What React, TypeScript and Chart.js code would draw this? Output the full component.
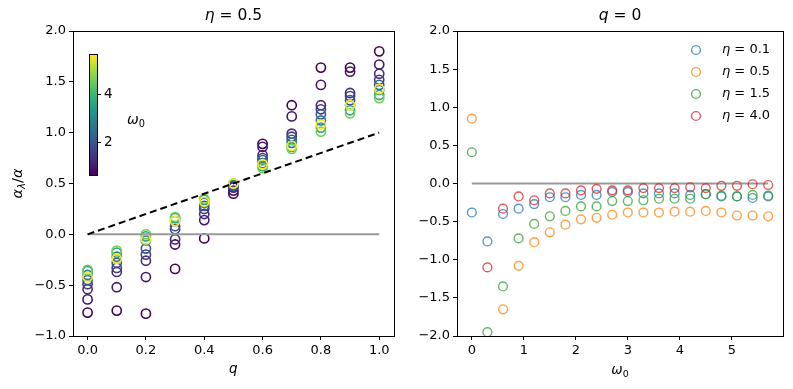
import React, { useEffect, useRef } from "react";
import { Chart, registerables } from "chart.js";
Chart.register(...registerables);

const FONT = '"DejaVu Sans", sans-serif';

// ---------- left panel data (eta = 0.5) ----------
const Q_VALUES = [0, 0.1, 0.2, 0.3, 0.4, 0.5, 0.6, 0.7, 0.8, 0.9, 1.0];
const OMEGA_LEFT = [0.6, 0.9, 1.2, 1.5, 2.0, 2.7, 3.6, 4.6, 5.7];
const RATIO_W0_6 = [-0.77, -0.75, -0.78, -0.34, -0.04, 0.40, 0.89, 1.27, 1.64, 1.64, 1.80];
const RATIO_W0_9 = [-0.64, -0.52, -0.42, -0.10, 0.14, 0.43, 0.86, 1.16, 1.47, 1.60, 1.67];
const RATIO_W1_2 = [-0.54, -0.37, -0.26, -0.05, 0.20, 0.46, 0.78, 0.99, 1.27, 1.39, 1.58];
const RATIO_W1_5 = [-0.49, -0.33, -0.20, 0.05, 0.25, 0.47, 0.75, 0.96, 1.23, 1.36, 1.52];
const RATIO_W2_0 = [-0.45, -0.28, -0.14, 0.08, 0.28, 0.48, 0.73, 0.93, 1.18, 1.32, 1.47];
const RATIO_W2_7 = [-0.40, -0.22, -0.06, 0.13, 0.31, 0.49, 0.70, 0.90, 1.12, 1.27, 1.42];
const RATIO_W3_6 = [-0.36, -0.18, -0.02, 0.16, 0.34, 0.50, 0.67, 0.86, 1.05, 1.22, 1.37];
const RATIO_W4_6 = [-0.35, -0.16, 0.00, 0.17, 0.35, 0.50, 0.65, 0.84, 1.01, 1.19, 1.34];
const RATIO_W5_7 = [-0.42, -0.24, -0.05, 0.13, 0.32, 0.50, 0.69, 0.87, 1.08, 1.27, 1.43];
const LEFT_SERIES = [RATIO_W0_6, RATIO_W0_9, RATIO_W1_2, RATIO_W1_5, RATIO_W2_0, RATIO_W2_7, RATIO_W3_6, RATIO_W4_6, RATIO_W5_7];
const DIAGONAL_Q = [0, 1];
const LEFT_X_TICKS = [0, 0.2, 0.4, 0.6, 0.8, 1.0];
const LEFT_Y_TICKS = [-1, -0.5, 0, 0.5, 1, 1.5, 2];
const COLORBAR_TICKS = [2, 4];

// ---------- right panel data (q = 0) ----------
const OMEGA_RIGHT = [0, 0.3, 0.6, 0.9, 1.2, 1.5, 1.8, 2.1, 2.4, 2.7, 3.0, 3.3, 3.6, 3.9, 4.2, 4.5, 4.8, 5.1, 5.4, 5.7];
const ETA_LABELS = ["0.1", "0.5", "1.5", "4.0"];
const RATIO_ETA_0_1 = [-0.38, -0.76, -0.40, -0.33, -0.27, -0.18, -0.18, -0.15, -0.15, -0.11, -0.11, -0.13, -0.13, -0.13, -0.15, -0.14, -0.17, -0.17, -0.19, -0.17];
const RATIO_ETA_0_5 = [0.85, null, -1.65, -1.08, -0.77, -0.64, -0.54, -0.47, -0.45, -0.41, -0.38, -0.38, -0.38, -0.37, -0.37, -0.36, -0.38, -0.42, -0.42, -0.43];
const RATIO_ETA_1_5 = [0.41, -1.95, -1.35, -0.72, -0.53, -0.43, -0.36, -0.30, -0.30, -0.23, -0.23, -0.22, -0.20, -0.20, -0.20, -0.14, -0.16, -0.17, -0.15, -0.16];
const RATIO_ETA_4_0 = [null, -1.10, -0.33, -0.17, -0.22, -0.13, -0.13, -0.09, -0.07, -0.09, -0.09, -0.06, -0.06, -0.06, -0.05, -0.06, -0.03, -0.03, -0.01, -0.02];
const RIGHT_SERIES = [RATIO_ETA_0_1, RATIO_ETA_0_5, RATIO_ETA_1_5, RATIO_ETA_4_0];
const TAB_RGB = ["31,119,180", "255,127,14", "44,160,44", "214,39,40"];
const RIGHT_X_TICKS = [0, 1, 2, 3, 4, 5];
const RIGHT_Y_TICKS = [-2, -1.5, -1, -0.5, 0, 0.5, 1, 1.5, 2];

// ---------- helpers ----------
const VIRIDIS = ["#440154", "#482878", "#3e4989", "#31688e", "#26828e", "#1f9e89", "#35b779", "#6ece58", "#b5de2b", "#fde725"];
function hexRgb(h: string) {
  return [parseInt(h.slice(1, 3), 16), parseInt(h.slice(3, 5), 16), parseInt(h.slice(5, 7), 16)];
}
function viridis(t: number) {
  const c = Math.max(0, Math.min(1, t)) * (VIRIDIS.length - 1);
  const i = Math.min(VIRIDIS.length - 2, Math.floor(c));
  const f = c - i;
  const a = hexRgb(VIRIDIS[i]);
  const b = hexRgb(VIRIDIS[i + 1]);
  const m = a.map((v, k) => Math.round(v + (b[k] - v) * f));
  return `rgb(${m[0]},${m[1]},${m[2]})`;
}

type Part = { t: string; it?: boolean; sub?: boolean };
function partFont(p: Part, size: number) {
  return `${p.it ? "italic " : ""}${p.sub ? size * 0.7 : size}px ${FONT}`;
}
function drawMath(ctx: CanvasRenderingContext2D, parts: Part[], x: number, y: number, size: number, align: "left" | "center") {
  ctx.save();
  ctx.fillStyle = "#000";
  ctx.textBaseline = "middle";
  ctx.textAlign = "left";
  let w = 0;
  for (const p of parts) {
    ctx.font = partFont(p, size);
    w += ctx.measureText(p.t).width;
  }
  let cx = align === "center" ? x - w / 2 : x;
  for (const p of parts) {
    ctx.font = partFont(p, size);
    ctx.fillText(p.t, cx, p.sub ? y + size * 0.3 : y);
    cx += ctx.measureText(p.t).width;
  }
  ctx.restore();
}

function fmt(v: number, d: number) {
  return (d > 0 ? v.toFixed(d) : String(Math.round(v))).replace("-", "\u2212");
}

function axis(min: number, max: number, ticks: number[], decimals: number, isX: boolean, size: number) {
  return {
    type: "linear",
    min,
    max,
    afterBuildTicks: (s: any) => {
      s.ticks = ticks.map((v) => ({ value: v }));
    },
    afterFit: (s: any) => {
      if (isX) s.height = size;
      else s.width = size;
    },
    grid: { display: true, drawOnChartArea: false, drawTicks: true, tickLength: 4, tickWidth: 1, tickColor: "#000" },
    border: { display: false },
    ticks: {
      color: "#000",
      font: { family: FONT, size: 13 },
      padding: 3,
      autoSkip: false,
      maxRotation: 0,
      callback: (v: any) => fmt(Number(v), decimals),
    },
  };
}

function frame(ctx: CanvasRenderingContext2D, a: any) {
  ctx.save();
  ctx.strokeStyle = "#000";
  ctx.lineWidth = 1;
  ctx.strokeRect(Math.round(a.left) + 0.5, Math.round(a.top) + 0.5, Math.round(a.right - a.left), Math.round(a.bottom - a.top));
  ctx.restore();
}

const wMin = Math.min(...OMEGA_LEFT);
const wMax = Math.max(...OMEGA_LEFT);

function leftConfig(): any {
  const datasets: any[] = [];
  datasets.push({
    data: DIAGONAL_Q.map((q) => ({ x: q, y: q })),
    showLine: true,
    borderColor: "#000",
    borderWidth: 2,
    borderDash: [7, 4],
    pointRadius: 0,
    order: -2,
  });
  datasets.push({
    data: DIAGONAL_Q.map((q) => ({ x: q, y: 0 })),
    showLine: true,
    borderColor: "#999999",
    borderWidth: 2,
    pointRadius: 0,
    order: -1,
  });
  OMEGA_LEFT.forEach((w, i) => {
    const col = viridis((w - wMin) / (wMax - wMin));
    datasets.push({
      data: Q_VALUES.map((q, k) => ({ x: q, y: LEFT_SERIES[i][k] })),
      showLine: false,
      pointRadius: 4.6,
      pointBorderWidth: 1.6,
      pointBackgroundColor: "rgba(0,0,0,0)",
      pointBorderColor: col,
      borderColor: col,
      order: OMEGA_LEFT.length - i,
    });
  });
  const decor = {
    id: "leftDecor",
    afterDraw(chart: any) {
      const ctx = chart.ctx as CanvasRenderingContext2D;
      const a = chart.chartArea;
      frame(ctx, a);
      const cxm = (a.left + a.right) / 2;
      drawMath(ctx, [{ t: "η", it: true }, { t: " = 0.5" }], cxm, 16, 15.5, "center");
      drawMath(ctx, [{ t: "q", it: true }], cxm, 369, 13.5, "center");
      ctx.save();
      ctx.translate(18, (a.top + a.bottom) / 2);
      ctx.rotate(-Math.PI / 2);
      drawMath(ctx, [{ t: "α", it: true }, { t: "λ", it: true, sub: true }, { t: "/" }, { t: "α", it: true }], 0, 0, 14.5, "center");
      ctx.restore();
      // colorbar
      const x0 = a.left + 16;
      const w = 8;
      const top = a.top + 23;
      const bot = top + 121;
      const g = ctx.createLinearGradient(0, bot, 0, top);
      for (let k = 0; k <= 20; k++) g.addColorStop(k / 20, viridis(k / 20));
      ctx.save();
      ctx.fillStyle = g;
      ctx.fillRect(x0, top, w, bot - top);
      ctx.strokeStyle = "#000";
      ctx.lineWidth = 1;
      ctx.strokeRect(x0 + 0.5, top + 0.5, w, bot - top);
      ctx.fillStyle = "#000";
      ctx.font = `13.5px ${FONT}`;
      ctx.textBaseline = "middle";
      ctx.textAlign = "left";
      for (const v of COLORBAR_TICKS) {
        const y = Math.round(bot - ((v - wMin) / (wMax - wMin)) * (bot - top)) + 0.5;
        ctx.beginPath();
        ctx.moveTo(x0 + w, y);
        ctx.lineTo(x0 + w + 4, y);
        ctx.stroke();
        ctx.fillText(String(v), x0 + w + 7, y);
      }
      ctx.restore();
      drawMath(ctx, [{ t: "ω", it: true }, { t: "0", sub: true }], 136, 120, 14, "center");
    },
  };
  return {
    type: "scatter",
    data: { datasets },
    plugins: [decor],
    options: {
      animation: false,
      responsive: false,
      devicePixelRatio: 1,
      layout: { padding: { top: 31, right: 2, left: 0, bottom: 0 } },
      plugins: { legend: { display: false }, tooltip: { enabled: false }, title: { display: false } },
      scales: {
        x: axis(-0.05, 1.05, LEFT_X_TICKS, 1, true, 53),
        y: axis(-1, 2, LEFT_Y_TICKS, 1, false, 73),
      },
    },
  };
}

function rightConfig(): any {
  const datasets: any[] = [];
  datasets.push({
    data: [OMEGA_RIGHT[0], OMEGA_RIGHT[OMEGA_RIGHT.length - 1]].map((w) => ({ x: w, y: 0 })),
    showLine: true,
    borderColor: "#999999",
    borderWidth: 2,
    pointRadius: 0,
    order: 10,
  });
  RIGHT_SERIES.forEach((s, i) => {
    const col = `rgba(${TAB_RGB[i]},0.75)`;
    datasets.push({
      data: OMEGA_RIGHT.map((w, k) => ({ x: w, y: s[k] })),
      showLine: false,
      pointRadius: 4.4,
      pointBorderWidth: 1.4,
      pointBackgroundColor: "rgba(0,0,0,0)",
      pointBorderColor: col,
      borderColor: col,
      order: RIGHT_SERIES.length - i,
    });
  });
  const decor = {
    id: "rightDecor",
    afterDraw(chart: any) {
      const ctx = chart.ctx as CanvasRenderingContext2D;
      const a = chart.chartArea;
      frame(ctx, a);
      const cxm = (a.left + a.right) / 2;
      drawMath(ctx, [{ t: "q", it: true }, { t: " = 0" }], cxm, 16, 15.5, "center");
      drawMath(ctx, [{ t: "ω", it: true }, { t: "0", sub: true }], cxm, 370, 13.5, "center");
      // legend
      const mx = a.right - 87;
      ETA_LABELS.forEach((lab, i) => {
        const y = a.top + 19 + i * 22;
        ctx.save();
        ctx.strokeStyle = `rgba(${TAB_RGB[i]},0.75)`;
        ctx.lineWidth = 1.4;
        ctx.beginPath();
        ctx.arc(mx, y, 4.4, 0, Math.PI * 2);
        ctx.stroke();
        ctx.restore();
        drawMath(ctx, [{ t: "η", it: true }, { t: " = " + lab }], mx + 26, y, 13, "left");
      });
    },
  };
  return {
    type: "scatter",
    data: { datasets },
    plugins: [decor],
    options: {
      animation: false,
      responsive: false,
      devicePixelRatio: 1,
      layout: { padding: { top: 31, right: 10, left: 0, bottom: 0 } },
      plugins: { legend: { display: false }, tooltip: { enabled: false }, title: { display: false } },
      scales: {
        x: axis(-0.285, 5.985, RIGHT_X_TICKS, 0, true, 53),
        y: axis(-2, 2, RIGHT_Y_TICKS, 1, false, 57),
      },
    },
  };
}

export default function App() {
  const leftRef = useRef<HTMLCanvasElement>(null);
  const rightRef = useRef<HTMLCanvasElement>(null);
  useEffect(() => {
    const c1 = new Chart(leftRef.current as HTMLCanvasElement, leftConfig());
    const c2 = new Chart(rightRef.current as HTMLCanvasElement, rightConfig());
    return () => {
      c1.destroy();
      c2.destroy();
    };
  }, []);
  return (
    <div style={{ position: "fixed", left: 0, top: 0, width: 793, height: 389, background: "#fff" }}>
      <canvas ref={leftRef} width={400} height={389} style={{ position: "absolute", left: 0, top: 0, width: 400, height: 389 }} />
      <canvas ref={rightRef} width={393} height={389} style={{ position: "absolute", left: 400, top: 0, width: 393, height: 389 }} />
    </div>
  );
}
